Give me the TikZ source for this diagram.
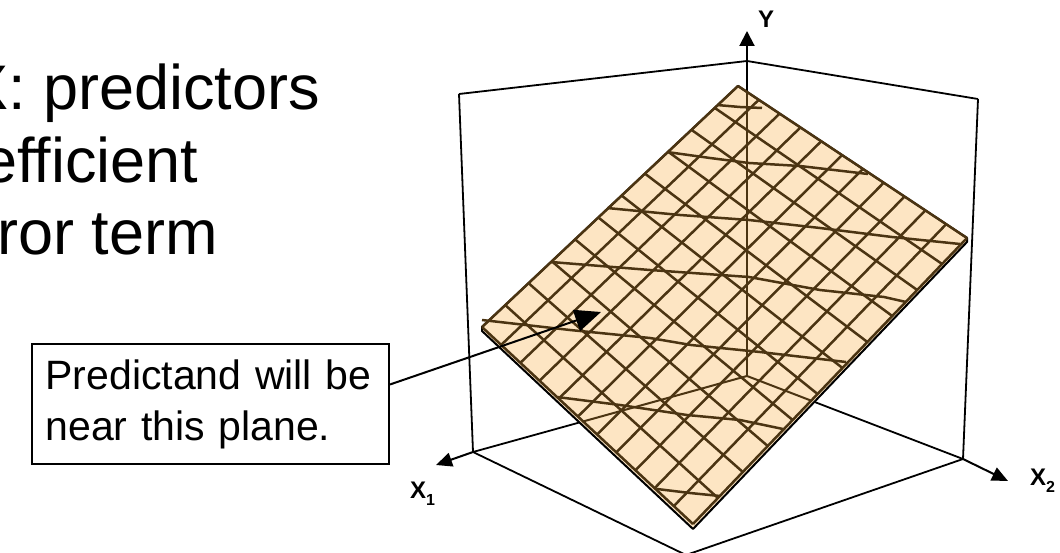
\documentclass[tikz,border=0pt]{standalone}
\usepackage{fontspec}
\setmainfont{Liberation Sans}
\usetikzlibrary{arrows.meta,calc}
\definecolor{planefill}{HTML}{FDE5C3}
\definecolor{meshbrown}{HTML}{4B3412}

\begin{document}
\begin{tikzpicture}[x=1pt,y=-1pt,
		edge/.style={line width=1.8pt},
		axis/.style={line width=2pt,-{Triangle[length=16pt,width=14pt]}},
		mesh/.style={line width=2.5pt,draw=meshbrown,line join=round},
		axlabel/.style={font=\bfseries\fontsize{24}{24}\selectfont,inner sep=0pt,anchor=base west}]
		\useasboundingbox (0,0) rectangle (1060,553);
		\clip (0,0) rectangle (1060,553);
		
		% Bullet text (cut at the left)
		\node[anchor=base west,inner sep=0pt,font=\fontsize{63}{72}\selectfont] (predictors) at (-34,110) {X: predictors};
		\node[anchor=base west,inner sep=0pt,font=\fontsize{63}{72}\selectfont] (coeff) at (-18,183) {efficient};
		\node[anchor=base west,inner sep=0pt,font=\fontsize{63}{72}\selectfont] (errterm) at (-3,255) {ror term};
		
		% Box corners
		\coordinate (topc) at (747,61);
		\coordinate (back) at (747,376);
		\coordinate (tl) at (459,94);
		\coordinate (tr) at (978,99);
		\coordinate (bl) at (473,452);
		\coordinate (br) at (963,459);
		\coordinate (front) at (686,555);
		\coordinate (ytip) at (747,31);
		\coordinate (xonetip) at (436,465);
		\coordinate (xtwotip) at (1008,481);
		
		% Box and axes
		\draw[edge] (tl) -- (topc) -- (tr);
		\draw[edge] (tl) -- (bl);
		\draw[edge] (tr) -- (br);
		\draw[edge] (bl) -- (back) -- (br);
		\draw[edge] (bl) -- (front) -- (br);
		\draw[axis,-{Triangle[length=15pt,width=15pt]}] (back) -- (ytip);
		\draw[axis] (bl) -- (xonetip);
		\draw[axis] (br) -- (xtwotip);
		
		% Axis labels
		\node[axlabel] (ylab) at (758,28) {Y};
		\node[axlabel] (xonelab) at (410,498) {X\raisebox{-7pt}{\fontsize{16}{16}\selectfont 1}};
		\node[axlabel] (xtwolab) at (1030,485) {X\raisebox{-7pt}{\fontsize{16}{16}\selectfont 2}};
		
		% Regression plane
		\coordinate (pt) at (738,86);
		\coordinate (pr) at (967,238);
		\coordinate (pb) at (693,524);
		\coordinate (pl) at (482,327);
		\filldraw[fill=planefill,line width=2pt,line join=round] (pt) -- (pr) -- ($(pr)+(0,4)$) -- ($(pb)+(0,5)$) -- ($(pl)+(0,4)$) -- (pl) -- cycle;
		\foreach \i in {0,...,11}{
			\draw[mesh] ($(pt)!{\i/11}!(pr)$) -- ($(pl)!{\i/11}!(pb)$);
			\draw[mesh] ($(pt)!{\i/11}!(pl)$) -- ($(pr)!{\i/11}!(pb)$);
		}
		
		% Back edges seen through the plane
		\begin{scope}
			\clip (pt) -- (pr) -- (pb) -- (pl) -- cycle;
			\draw[mesh,line width=2pt] (back) -- (topc);
			\draw[mesh,line width=2pt] (back) -- (bl);
			\draw[mesh,line width=2pt] (back) -- (br);
		\end{scope}
		
		% Wavy lines on the plane
		\draw[mesh] (717,105) -- (740,107) -- (762,108);
		\draw[mesh] (667,152) -- (710,158) -- (749,163) -- (800,166) -- (868,174);
		\draw[mesh] (607,208) -- (680,215) -- (749,220) -- (820,228) -- (892,237) -- (960,244);
		\draw[mesh] (551,262) -- (650,270) -- (749,277) -- (820,290) -- (884,297) -- (906,302);
		\draw[mesh] (482,320) -- (570,330) -- (650,338) -- (691,345) -- (760,352) -- (846,362);
		\draw[mesh] (557,397) -- (620,405) -- (687,415) -- (740,420) -- (783,429);
		\draw[mesh] (657,489) -- (690,493) -- (720,496);
		
		% Callout
		\node[draw,line width=2pt,anchor=south east,text width=330pt,inner xsep=13.5pt,
			minimum height=120pt,align=left,font=\fontsize{41}{51}\selectfont] (callout) at (390,465)
			{Predictand will be\\near this plane.};
		\coordinate (calltip) at (601,312);
		\draw[line width=2pt,-{Triangle[length=26pt,width=22pt]}] ($(callout.north east)!0.34!(callout.south east)$) -- (calltip);
	\end{tikzpicture}
\end{document}
